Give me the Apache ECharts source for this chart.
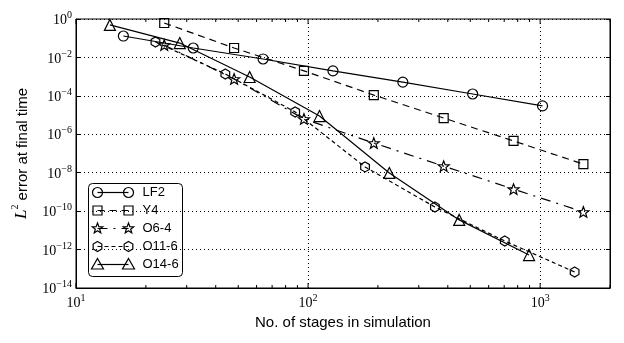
<!DOCTYPE html>
<html>
<head>
<meta charset="utf-8">
<script src="https://cdn.jsdelivr.net/npm/echarts@6/dist/echarts.min.js"></script>
<style>
  html, body { margin: 0; padding: 0; background: #fff; }
  #chart { width: 624px; height: 343px; }
</style>
</head>
<body>
<div id="chart"></div>
<script>
// values
var lf2X = [16, 32, 64, 128, 256, 512, 1024]
var lf2Y = [0.13, 0.031, 0.0083, 0.0020, 5.2e-4, 1.25e-4, 3.0e-5]
var y4X = [24, 48, 96, 192, 384, 768, 1536]
var y4Y = [0.62, 0.031, 0.0020, 1.1e-4, 7.0e-6, 4.5e-7, 2.8e-8]
var o64X = [24, 48, 96, 192, 384, 768, 1536]
var o64Y = [0.044, 7.6e-4, 6.3e-6, 3.5e-7, 2.2e-8, 1.4e-9, 9.1e-11]
var o116X = [22, 44, 88, 176, 352, 704, 1408]
var o116Y = [0.064, 1.37e-3, 1.45e-5, 2.0e-8, 1.64e-10, 2.8e-12, 6.8e-14]
var o146X = [14, 28, 56, 112, 224, 448, 896]
var o146Y = [0.49, 0.056, 9.6e-4, 8.9e-6, 9.7e-9, 3.5e-11, 5.2e-13]

var seriesNames = ['LF2', 'Y4', 'O6-4', 'O11-6', 'O14-6']

// x axis ticks (major at decades, minor in between)
var xMajorTicks = [10, 100, 1000]
var xMinorTicks = [20, 30, 40, 50, 60, 70, 80, 90, 200, 300, 400, 500, 600, 700, 800, 900, 2000]

var serif = 'Liberation Serif'
var sans = 'Liberation Sans'
var lw = 1.2

function starPoints (cx, cy, r) {
  var pts = []
  for (var i = 0; i < 10; i++) {
    var a = -Math.PI / 2 + i * Math.PI / 5
    var rr = i % 2 === 0 ? r : r * 0.42
    pts.push([cx + rr * Math.cos(a), cy + rr * Math.sin(a)])
  }
  return pts
}
function hexPoints (cx, cy, r) {
  var pts = []
  for (var i = 0; i < 6; i++) {
    var a = -Math.PI / 2 + i * Math.PI / 3
    pts.push([cx + r * Math.cos(a), cy + r * Math.sin(a)])
  }
  return pts
}
function toPath (pts) {
  return 'path://' + pts.map(function (p, i) {
    return (i === 0 ? 'M' : 'L') + p[0].toFixed(3) + ' ' + p[1].toFixed(3)
  }).join(' ') + ' Z'
}

var starSymbol = toPath(starPoints(0, 0, 10))
var hexSymbol = toPath(hexPoints(0, 0, 10))

var styles = [
  { symbol: 'circle', size: 10, dash: 'solid' },
  { symbol: 'rect', size: 9, dash: [7, 5] },
  { symbol: starSymbol, size: 11, dash: [10, 6, 2, 6] },
  { symbol: hexSymbol, size: 10, dash: [4, 3] },
  { symbol: 'triangle', size: 11, dash: 'solid' }
]
var xs = [lf2X, y4X, o64X, o116X, o146X]
var ys = [lf2Y, y4Y, o64Y, o116Y, o146Y]

function pairs (a, b) {
  return a.map(function (v, i) { return [v, b[i]] })
}

function supLabel (v) {
  var e = Math.round(Math.log10(v))
  if (Math.abs(Math.log10(v) - e) > 1e-6) return ''
  return '{b|10}{s|' + String(e).replace('-', '\u2212') + '}'
}
var labelRich = {
  b: { fontFamily: serif, fontSize: 14, color: '#000', verticalAlign: 'bottom', lineHeight: 17 },
  s: { fontFamily: serif, fontSize: 10, color: '#000', verticalAlign: 'top', lineHeight: 17 }
}

var lineSeries = seriesNames.map(function (name, k) {
  return {
    name: name,
    type: 'line',
    data: pairs(xs[k], ys[k]),
    symbol: styles[k].symbol,
    symbolSize: styles[k].size,
    symbolKeepAspect: true,
    showAllSymbol: true,
    lineStyle: { color: '#000', width: lw, type: styles[k].dash },
    itemStyle: { color: 'rgba(0,0,0,0)', borderColor: '#000', borderWidth: lw },
    emphasis: { disabled: true },
    animation: false,
    z: 3
  }
})

var tickData = xMajorTicks.map(function (v) { return [v, 1] })
  .concat(xMinorTicks.map(function (v) { return [v, 0] }))

var tickSeries = {
  type: 'custom',
  data: tickData,
  silent: true,
  clip: false,
  animation: false,
  z: 4,
  renderItem: function (params, api) {
    var v = api.value(0)
    var len = api.value(1) ? 5 : 3
    var pb = api.coord([v, 1e-14])
    var pt = api.coord([v, 1])
    return {
      type: 'group',
      children: [
        { type: 'line', shape: { x1: pb[0], y1: pb[1], x2: pb[0], y2: pb[1] - len }, style: { stroke: '#000', lineWidth: 1 } },
        { type: 'line', shape: { x1: pt[0], y1: pt[1], x2: pt[0], y2: pt[1] + len }, style: { stroke: '#000', lineWidth: 1 } }
      ]
    }
  }
}

// legend drawn by hand so that each row shows two markers with the line style
var legendLeft = 88
var legendTop = 183
var rowGap = 18
var legendChildren = [{
  type: 'rect',
  shape: { x: 0, y: 0, width: 94, height: 93, r: 4 },
  style: { fill: '#fff', stroke: '#000', lineWidth: 1 }
}]
function markerShape (k, cx, cy) {
  var st = { fill: 'none', stroke: '#000', lineWidth: lw }
  if (k === 0) return { type: 'circle', shape: { cx: cx, cy: cy, r: 5 }, style: st }
  if (k === 1) return { type: 'rect', shape: { x: cx - 4.5, y: cy - 4.5, width: 9, height: 9 }, style: st }
  if (k === 2) return { type: 'polygon', shape: { points: starPoints(cx, cy, 5.5) }, style: st }
  if (k === 3) return { type: 'polygon', shape: { points: hexPoints(cx, cy, 5) }, style: st }
  return { type: 'polygon', shape: { points: [[cx, cy - 6], [cx + 6, cy + 4.5], [cx - 6, cy + 4.5]] }, style: st }
}
seriesNames.forEach(function (name, k) {
  var cy = 9 + k * rowGap
  legendChildren.push({
    type: 'line',
    shape: { x1: 9, y1: cy, x2: 40, y2: cy },
    style: { stroke: '#000', lineWidth: lw, lineDash: styles[k].dash === 'solid' ? null : styles[k].dash }
  })
  legendChildren.push(markerShape(k, 9, cy))
  legendChildren.push(markerShape(k, 40, cy))
  legendChildren.push({
    type: 'text',
    x: 54,
    y: cy,
    style: { text: name, fontFamily: sans, fontSize: 13, fill: '#000', verticalAlign: 'middle' }
  })
})

var chart = echarts.init(document.getElementById('chart'))
chart.setOption({
  animation: false,
  backgroundColor: '#fff',
  grid: {
    left: 76,
    right: 14,
    top: 19,
    bottom: 55,
    show: true,
    borderColor: '#000',
    borderWidth: 1,
    backgroundColor: 'transparent'
  },
  xAxis: {
    type: 'log',
    logBase: 10,
    min: 10,
    max: 2000,
    interval: 1,
    name: 'No. of stages in simulation',
    nameLocation: 'middle',
    nameGap: 27,
    nameTextStyle: { fontFamily: sans, fontSize: 15, color: '#000' },
    axisLine: { show: true, lineStyle: { color: '#000', width: 1 } },
    axisTick: { show: false },
    axisLabel: { formatter: supLabel, rich: labelRich, margin: 5 },
    splitLine: {
      show: true,
      lineStyle: { color: '#000', width: 1, type: [1, 3] }
    }
  },
  yAxis: [{
    type: 'log',
    logBase: 10,
    min: 1e-14,
    max: 1,
    interval: 2,
    name: '{L|L}{p|2}{t| error at final time}',
    nameLocation: 'middle',
    nameGap: 46,
    nameRotate: 90,
    nameTextStyle: {
      rich: {
        L: { fontFamily: serif, fontStyle: 'italic', fontSize: 17, color: '#000', verticalAlign: 'bottom', lineHeight: 20 },
        p: { fontFamily: serif, fontSize: 10, color: '#000', verticalAlign: 'top', lineHeight: 20 },
        t: { fontFamily: sans, fontSize: 15, color: '#000', verticalAlign: 'bottom', lineHeight: 20 }
      }
    },
    axisLine: { show: true, lineStyle: { color: '#000', width: 1 } },
    axisTick: { show: true, inside: true, length: 4, lineStyle: { color: '#000' } },
    axisLabel: { formatter: supLabel, rich: labelRich, margin: 4 },
    splitLine: {
      show: true,
      lineStyle: { color: '#000', width: 1, type: [1, 3] }
    }
  }, {
    type: 'log',
    logBase: 10,
    min: 1e-14,
    max: 1,
    interval: 2,
    position: 'right',
    axisLine: { show: true, lineStyle: { color: '#000', width: 1 } },
    axisTick: { show: true, inside: true, length: 4, lineStyle: { color: '#000' } },
    axisLabel: { show: false },
    splitLine: { show: false }
  }],
  graphic: [{
    type: 'group',
    left: legendLeft,
    top: legendTop,
    z: 100,
    children: legendChildren
  }],
  series: lineSeries.concat([tickSeries])
})
</script>
</body>
</html>
